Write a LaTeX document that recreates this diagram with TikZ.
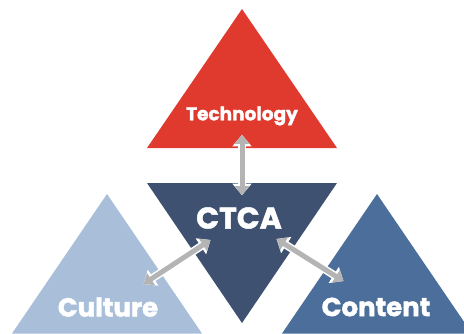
\documentclass[tikz,border=0pt]{standalone}
\usepackage{fontspec}
\newfontfamily\labfont{Poppins}[BoldFeatures={FakeBold=1.6}]
\usetikzlibrary{arrows.meta}
\definecolor{techred}{HTML}{E03A2F}
\definecolor{ctcanavy}{HTML}{3F5170}
\definecolor{culblue}{HTML}{A8BED9}
\definecolor{conblue}{HTML}{4C6E9B}
\definecolor{arrgrey}{HTML}{B4B4B4}
\tikzset{
  lab/.style={text=white, inner sep=0pt},
  garrow/.style={
    draw=arrgrey, line width=5pt,
    shorten <=1.8pt, shorten >=1.8pt,
    {Triangle[width=14pt,length=9pt]}-{Triangle[width=14pt,length=9pt]},
    preaction={draw=white, line width=8pt,
      {Triangle[width=18.5pt,length=11.5pt]}-{Triangle[width=18.5pt,length=11.5pt]}}
  }
}
\begin{document}
\begin{tikzpicture}[x=1pt,y=-1pt]
\useasboundingbox (0,0) rectangle (464,333);
\begin{scope}
\clip (0,0) rectangle (464,333);
% triangles
\fill[techred] (242,9) -- (337,148) -- (147,148) -- cycle;
\fill[ctcanavy] (147,183) -- (337,183) -- (242,323) -- cycle;
\fill[culblue] (107,194) -- (202,333.5) -- (12,333.5) -- cycle;
\fill[conblue] (377,194) -- (472,333.5) -- (282,333.5) -- cycle;
\end{scope}
% labels
\node[lab, font=\labfont\bfseries\fontsize{18.5}{18.5}\selectfont] (tech) at (242,116) {Technology};
\node[lab, font=\labfont\bfseries\fontsize{30}{30}\selectfont] (ctca) at (239,218) {CTCA};
\node[lab, font=\labfont\bfseries\fontsize{26}{26}\selectfont] (cul) at (108,307) {Culture};
\node[lab, font=\labfont\bfseries\fontsize{26}{26}\selectfont] (con) at (376,307) {Content};
% arrow end points
\coordinate (t1) at (242,133);
\coordinate (t2) at (242,197);
\coordinate (l1) at (212,239);
\coordinate (l2) at (142,285);
\coordinate (r1) at (275,238);
\coordinate (r2) at (345,282);
\draw[garrow] (t1) -- (t2);
\draw[garrow] (l1) -- (l2);
\draw[garrow] (r1) -- (r2);
\end{tikzpicture}
\end{document}
